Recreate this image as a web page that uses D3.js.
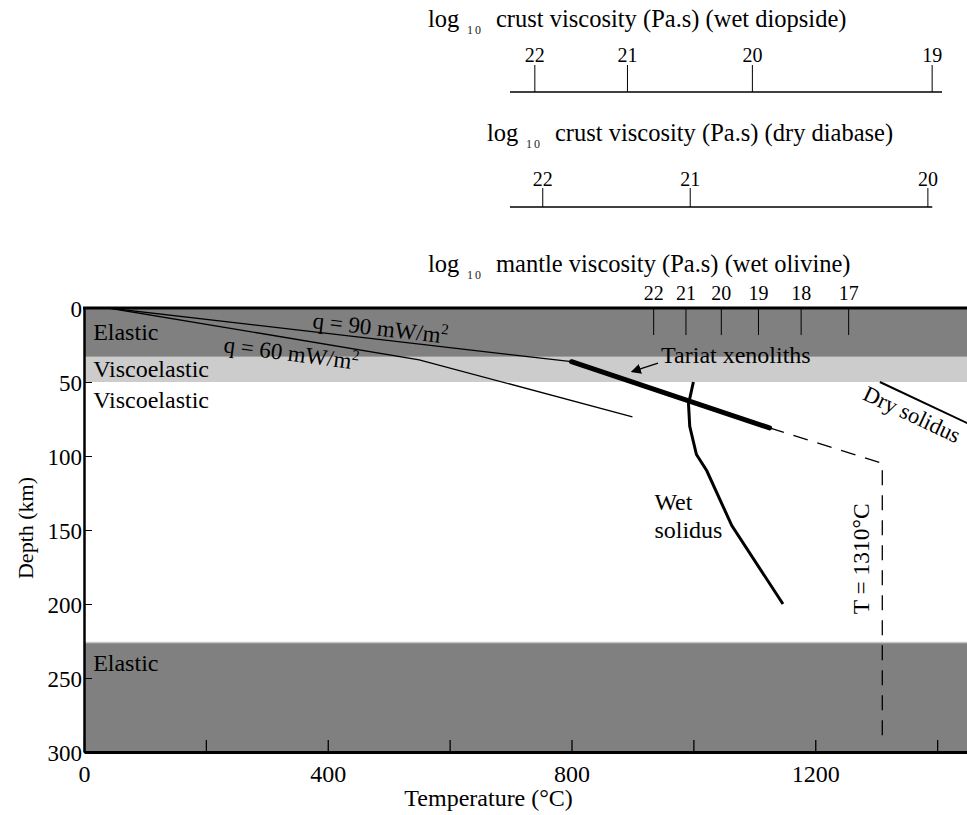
<!DOCTYPE html>
<html>
<head>
<meta charset="utf-8">
<script src="https://cdn.jsdelivr.net/npm/d3@7"></script>
<style>
  body { margin: 0; background: #fff; }
  text { font-family: "Liberation Serif", "Times New Roman", serif; fill: #000; }
</style>
</head>
<body>
<div id="chart"></div>
<script>
// ---- values ----
var tempTicks = [0, 200, 400, 600, 800, 1000, 1200, 1400];
var depthTicks = [0, 50, 100, 150, 200, 250, 300];

// layers (depth in km)
var bandTop = [0, 33, 226];
var bandBottom = [33, 50, 300];
var bandKind = ["elastic", "viscoelastic", "elastic"];

// geotherms (temperature degC, depth km)
var geo90T = [40, 800];
var geo90D = [0, 36.3];
var geo60T = [40, 550, 900];
var geo60D = [0, 35, 73.5];
var xenolithT = [800, 1125];
var xenolithD = [36.3, 81];
var adiabatT = [1125, 1310, 1310];
var adiabatD = [81, 105, 292];
var wetSolidusT = [1000, 992, 994, 1005, 1022, 1063, 1147];
var wetSolidusD = [50, 65, 80, 99, 110, 147, 200];
var drySolidusT = [1306, 1480];
var drySolidusD = [50, 83.7];

// viscosity axes: log10 value and the temperature it sits at
var wetDiopsideLog = [22, 21, 20, 19];
var wetDiopsideT = [739, 891, 1096, 1391];
var wetDiopsideExtent = [699, 1408];
var dryDiabaseLog = [22, 21, 20];
var dryDiabaseT = [752, 994, 1384];
var dryDiabaseExtent = [699, 1392];
var mantleLog = [22, 21, 20, 19, 18, 17];
var mantleT = [934, 987, 1045, 1106, 1176, 1254];

var W = 967, H = 815;
var svg = d3.select("#chart").append("svg").attr("width", W).attr("height", H);

var x = d3.scaleLinear().domain([0, 1449]).range([84, 967]);
var y = d3.scaleLinear().domain([0, 300]).range([308, 752]);

svg.append("clipPath").attr("id", "plotclip")
  .append("rect").attr("x", 84).attr("y", 308).attr("width", W - 84).attr("height", 752 - 308);

var plot = svg.append("g").attr("clip-path", "url(#plotclip)");

// bands
plot.selectAll("rect.band").data(bandTop).enter().append("rect")
  .attr("class", "band")
  .attr("x", x(0)).attr("width", W - x(0))
  .attr("y", function (d) { return y(d); })
  .attr("height", function (d, i) { return y(bandBottom[i]) - y(d); })
  .attr("fill", function (d, i) { return bandKind[i] == "elastic" ? "#808080" : "#cccccc"; });
plot.append("line").attr("x1", x(0)).attr("x2", W)
  .attr("y1", y(bandTop[2])).attr("y2", y(bandTop[2]))
  .attr("stroke", "#c8c8c8").attr("stroke-width", 1.5);

var line = d3.line().x(function (d) { return x(d[0]); }).y(function (d) { return y(d[1]); });
function pts(ts, ds) { return ts.map(function (t, i) { return [t, ds[i]]; }); }

plot.append("path").attr("d", line(pts(geo90T, geo90D)))
  .attr("fill", "none").attr("stroke", "#000").attr("stroke-width", 1.3);
plot.append("path").attr("d", line(pts(geo60T, geo60D)))
  .attr("fill", "none").attr("stroke", "#000").attr("stroke-width", 1.3);
plot.append("path").attr("d", line(pts(adiabatT, adiabatD)))
  .attr("fill", "none").attr("stroke", "#000").attr("stroke-width", 1.3)
  .attr("stroke-dasharray", "15,10");
plot.append("path").attr("d", line(pts(xenolithT, xenolithD)))
  .attr("fill", "none").attr("stroke", "#000").attr("stroke-width", 5).attr("stroke-linecap", "round");
plot.append("path").attr("d", line(pts(wetSolidusT, wetSolidusD)))
  .attr("fill", "none").attr("stroke", "#000").attr("stroke-width", 3);
plot.append("path").attr("d", line(pts(drySolidusT, drySolidusD)))
  .attr("fill", "none").attr("stroke", "#000").attr("stroke-width", 2);

// axes
var xAxis = svg.append("g").attr("transform", "translate(0," + y(300) + ")")
  .call(d3.axisBottom(x).tickValues(tempTicks).tickSizeInner(-12).tickSizeOuter(0)
    .tickFormat(function (d) { return d % 400 == 0 ? d : ""; }));
xAxis.select(".domain").attr("stroke-width", 3);
xAxis.selectAll(".tick line").attr("stroke-width", 1.3);
xAxis.selectAll("text").attr("y", 30).attr("dy", 0)
  .style("font-size", "24px").style("font-family", "Liberation Serif, serif").attr("fill", "#000");

var yAxis = svg.append("g").attr("transform", "translate(" + x(0) + ",0)")
  .call(d3.axisLeft(y).tickValues(depthTicks).tickSizeInner(-8).tickSizeOuter(0).tickPadding(2));
yAxis.select(".domain").attr("stroke-width", 2.5);
yAxis.selectAll("text").attr("dy", "0.35em")
  .style("font-size", "23px").style("font-family", "Liberation Serif, serif").attr("fill", "#000");

svg.append("line").attr("x1", x(0) - 1).attr("x2", W).attr("y1", y(0)).attr("y2", y(0))
  .attr("stroke", "#000").attr("stroke-width", 3);

// mantle viscosity ticks
var mScale = d3.scaleLinear().domain(mantleLog).range(mantleT.map(x));
var mAxis = svg.append("g").attr("transform", "translate(0," + y(0) + ")")
  .call(d3.axisTop(mScale).tickValues(mantleLog).tickSizeInner(-27).tickSizeOuter(0).tickPadding(8)
    .tickFormat(d3.format("d")));
mAxis.select(".domain").remove();
mAxis.selectAll("text").style("font-size", "20px").style("font-family", "Liberation Serif, serif").attr("fill", "#000");

// crust viscosity axes
function crustAxis(logs, ts, extent, lineY, tick, pad) {
  var s = d3.scaleLinear().domain(logs).range(ts.map(x));
  var g = svg.append("g").attr("transform", "translate(0," + lineY + ")")
    .call(d3.axisTop(s).tickValues(logs).tickSizeInner(tick).tickSizeOuter(0).tickPadding(pad)
      .tickFormat(d3.format("d")));
  g.select(".domain").remove();
  g.selectAll("text").style("font-size", "20px").style("font-family", "Liberation Serif, serif").attr("fill", "#000");
  g.append("line").attr("x1", x(extent[0])).attr("x2", x(extent[1]))
    .attr("stroke", "#000").attr("stroke-width", 1.3);
}
crustAxis(wetDiopsideLog, wetDiopsideT, wetDiopsideExtent, 92, 27, 3);
crustAxis(dryDiabaseLog, dryDiabaseT, dryDiabaseExtent, 207, 19, 2);

function logTitle(x0, y0, rest) {
  var t = svg.append("text").attr("x", x0).attr("y", y0).style("font-size", "24.5px");
  t.append("tspan").text("log");
  t.append("tspan").attr("x", x0 + 39).attr("dy", 7).style("font-size", "12px").attr("fill", "#222").text("1");
  t.append("tspan").attr("x", x0 + 47).style("font-size", "12px").attr("fill", "#222").text("0");
  t.append("tspan").attr("x", x0 + 68).attr("dy", -7).text(rest);
}
logTitle(428, 27, "crust viscosity (Pa.s) (wet diopside)");
logTitle(487, 141, "crust viscosity (Pa.s) (dry diabase)");
logTitle(428, 272, "mantle viscosity (Pa.s) (wet olivine)");

// annotations
function label(txt, t, d, size) {
  return svg.append("text").attr("x", x(t)).attr("y", y(d)).style("font-size", size + "px").text(txt);
}
label("Elastic", 15, 21.5, 24);
label("Viscoelastic", 15, 46.5, 24);
label("Viscoelastic", 15, 67.5, 24);
label("Elastic", 15, 245.5, 24);
label("Tariat xenoliths", 947, 37, 24);
label("Wet", 936, 136.5, 24);
label("solidus", 936, 155.5, 24);

function qLabel(val, t, d, angle) {
  var px = x(t), py = y(d);
  var tx = svg.append("text").attr("transform", "translate(" + px + "," + py + ") rotate(" + angle + ")")
    .style("font-size", "23px");
  tx.append("tspan").text("q = " + val + " mW/m");
  tx.append("tspan").attr("dy", -9).style("font-size", "15px").text("2");
}
qLabel(90, 374, 13.5, 6.6);
qLabel(60, 228, 29.7, 7.5);

svg.append("text")
  .attr("transform", "translate(" + x(1276) + "," + y(61.5) + ") rotate(25.2)")
  .style("font-size", "22.5px").text("Dry solidus");
svg.append("text")
  .attr("transform", "translate(" + x(1289) + "," + y(207) + ") rotate(-90)")
  .style("font-size", "23.5px").text("T = 1310\u00B0C");

// arrow to xenolith line
svg.append("defs").append("marker").attr("id", "ah")
  .attr("viewBox", "0 0 10 10").attr("refX", 9).attr("refY", 5)
  .attr("markerWidth", 10).attr("markerHeight", 10).attr("markerUnits", "userSpaceOnUse")
  .attr("orient", "auto")
  .append("path").attr("d", "M0,0 L10,5 L0,10 z").attr("fill", "#000");
svg.append("line").attr("x1", x(942)).attr("y1", y(37.3)).attr("x2", x(899)).attr("y2", y(43))
  .attr("stroke", "#000").attr("stroke-width", 1.3).attr("marker-end", "url(#ah)");

// axis titles
svg.append("text").attr("x", x(664)).attr("y", 806).attr("text-anchor", "middle")
  .style("font-size", "24px").text("Temperature (\u00B0C)");
svg.append("text").attr("transform", "translate(33,528) rotate(-90)").attr("text-anchor", "middle")
  .style("font-size", "22px").text("Depth (km)");
</script>
</body>
</html>
